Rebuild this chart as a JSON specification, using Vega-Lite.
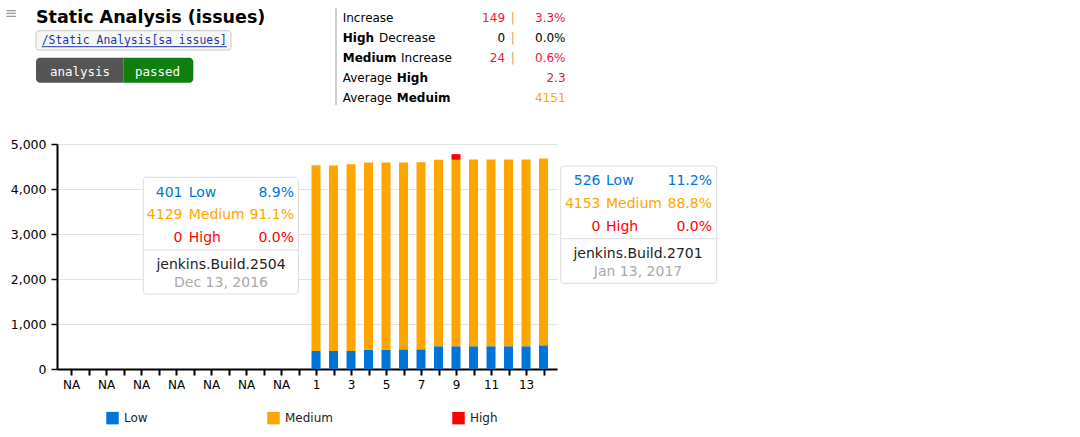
{
  "$schema": "https://vega.github.io/schema/vega-lite/v6.json",
  "autosize": {"type": "none"},
  "width": 500,
  "height": 225,
  "padding": {"left": 57, "top": 144, "right": 523, "bottom": 68},
  "background": "white",
  "config": {"font": "DejaVu Sans", "view": {"stroke": null}},
  "resolve": {"axis": {"x": "independent", "y": "independent"}},
  "layer": [
    {
      "data": {"values": [
        {"run": 14, "severity": "Low", "rank": 1, "count": 401},
        {"run": 14, "severity": "Medium", "rank": 2, "count": 4129},
        {"run": 14, "severity": "High", "rank": 3, "count": 0},
        {"run": 15, "severity": "Low", "rank": 1, "count": 400},
        {"run": 15, "severity": "Medium", "rank": 2, "count": 4120},
        {"run": 15, "severity": "High", "rank": 3, "count": 0},
        {"run": 16, "severity": "Low", "rank": 1, "count": 401},
        {"run": 16, "severity": "Medium", "rank": 2, "count": 4147},
        {"run": 16, "severity": "High", "rank": 3, "count": 0},
        {"run": 17, "severity": "Low", "rank": 1, "count": 431},
        {"run": 17, "severity": "Medium", "rank": 2, "count": 4158},
        {"run": 17, "severity": "High", "rank": 3, "count": 0},
        {"run": 18, "severity": "Low", "rank": 1, "count": 431},
        {"run": 18, "severity": "Medium", "rank": 2, "count": 4158},
        {"run": 18, "severity": "High", "rank": 3, "count": 0},
        {"run": 19, "severity": "Low", "rank": 1, "count": 438},
        {"run": 19, "severity": "Medium", "rank": 2, "count": 4151},
        {"run": 19, "severity": "High", "rank": 3, "count": 0},
        {"run": 20, "severity": "Low", "rank": 1, "count": 438},
        {"run": 20, "severity": "Medium", "rank": 2, "count": 4158},
        {"run": 20, "severity": "High", "rank": 3, "count": 0},
        {"run": 21, "severity": "Low", "rank": 1, "count": 505},
        {"run": 21, "severity": "Medium", "rank": 2, "count": 4144},
        {"run": 21, "severity": "High", "rank": 3, "count": 0},
        {"run": 22, "severity": "Low", "rank": 1, "count": 505},
        {"run": 22, "severity": "Medium", "rank": 2, "count": 4144},
        {"run": 22, "severity": "High", "rank": 3, "count": 125},
        {"run": 23, "severity": "Low", "rank": 1, "count": 505},
        {"run": 23, "severity": "Medium", "rank": 2, "count": 4151},
        {"run": 23, "severity": "High", "rank": 3, "count": 0},
        {"run": 24, "severity": "Low", "rank": 1, "count": 505},
        {"run": 24, "severity": "Medium", "rank": 2, "count": 4151},
        {"run": 24, "severity": "High", "rank": 3, "count": 0},
        {"run": 25, "severity": "Low", "rank": 1, "count": 505},
        {"run": 25, "severity": "Medium", "rank": 2, "count": 4151},
        {"run": 25, "severity": "High", "rank": 3, "count": 0},
        {"run": 26, "severity": "Low", "rank": 1, "count": 505},
        {"run": 26, "severity": "Medium", "rank": 2, "count": 4151},
        {"run": 26, "severity": "High", "rank": 3, "count": 0},
        {"run": 27, "severity": "Low", "rank": 1, "count": 526},
        {"run": 27, "severity": "Medium", "rank": 2, "count": 4153},
        {"run": 27, "severity": "High", "rank": 3, "count": 0}
      ]},
      "mark": {"type": "bar", "width": 9},
      "encoding": {
        "x": {"field": "run", "type": "quantitative",
          "scale": {"domain": [-0.8, 27.77], "nice": false, "zero": false, "padding": 0},
          "axis": {"title": null, "grid": false, "values": [0,1,2,3,4,5,6,7,8,9,10,11,12,13,14,15,16,17,18,19,20,21,22,23,24,25,26,27],
            "labelExpr": "datum.value < 14 ? (datum.value % 2 == 0 ? 'NA' : '') : (datum.value % 2 == 0 ? format(datum.value - 13, 'd') : '')",
            "domainColor": "#000", "domainWidth": 2, "tickColor": "#000", "tickWidth": 2, "tickSize": 6,
            "labelFontSize": 12, "labelColor": "#000", "labelPadding": 4, "labelAngle": 0, "labelFlush": false, "labelOverlap": false}},
        "y": {"field": "count", "type": "quantitative", "stack": "zero",
          "scale": {"domain": [0, 5000], "nice": false, "padding": 0},
          "axis": {"title": null, "values": [0,1000,2000,3000,4000,5000], "format": ",.0f", "grid": true, "gridColor": "#e2e2e2", "gridWidth": 1,
            "domainColor": "#000", "domainWidth": 2, "tickColor": "#000", "tickWidth": 1.5, "tickSize": 6,
            "labelFontSize": 12.5, "labelColor": "#000", "labelPadding": 5, "labelFlush": false}},
        "color": {"field": "severity", "type": "nominal",
          "scale": {"domain": ["Low", "Medium", "High"], "range": ["#0074d9", "#ffa500", "#ff0000"]},
          "legend": {"orient": "none", "legendX": 49, "legendY": 267.5, "direction": "horizontal", "title": null,
            "symbolType": "square", "symbolSize": 156, "symbolStrokeWidth": 0, "symbolOpacity": 1,
            "labelFontSize": 12, "labelOffset": 5, "columnPadding": 119, "labelColor": "#222", "padding": 0}},
        "order": {"field": "rank", "type": "quantitative"}
      }
    },
    {
      "data": {"values": [{"t": "≡", "x": -3.429, "y": 7904}]},
      "mark": {"type": "text", "align": "center", "baseline": "middle", "fontSize": 15, "color": "#999"},
      "encoding": {"x": {"field": "x", "type": "quantitative", "axis": null}, "y": {"field": "y", "type": "quantitative", "axis": null}, "text": {"field": "t"}}
    },
    {
      "data": {"values": [{"t": "Static Analysis (issues)", "x": -2.0, "y": 7682}]},
      "mark": {"type": "text", "align": "left", "baseline": "alphabetic", "fontSize": 17.5, "fontWeight": "bold", "color": "#000"},
      "encoding": {"x": {"field": "x", "type": "quantitative", "axis": null}, "y": {"field": "y", "type": "quantitative", "axis": null}, "text": {"field": "t"}}
    },
    {
      "data": {"values": [{"x": -2.0, "x2": 9.143, "y": 7518, "y2": 7089}]},
      "mark": {"type": "rect", "fill": "#f7f7f7", "stroke": "#c8c8c8", "strokeWidth": 1, "cornerRadius": 3},
      "encoding": {"x": {"field": "x", "type": "quantitative", "axis": null}, "x2": {"field": "x2"}, "y": {"field": "y", "type": "quantitative", "axis": null}, "y2": {"field": "y2"}}
    },
    {
      "data": {"values": [{"t": "/Static Analysis[sa_issues]", "x": -1.674, "y": 7216}]},
      "mark": {"type": "text", "align": "left", "baseline": "alphabetic", "font": "DejaVu Sans Mono", "fontSize": 11.4, "color": "#2233aa"},
      "encoding": {"x": {"field": "x", "type": "quantitative", "axis": null}, "y": {"field": "y", "type": "quantitative", "axis": null}, "text": {"field": "t"}}
    },
    {
      "data": {"values": [{"x": -1.674, "x2": 8.897, "y": 7162}]},
      "mark": {"type": "rule", "color": "#2233aa", "strokeWidth": 1},
      "encoding": {"x": {"field": "x", "type": "quantitative", "axis": null}, "x2": {"field": "x2"}, "y": {"field": "y", "type": "quantitative", "axis": null}}
    },
    {
      "data": {"values": [{"x": -2.0, "x2": 2.989, "y": 6918, "y2": 6362}]},
      "mark": {"type": "rect", "fill": "#555555", "cornerRadiusTopLeft": 4, "cornerRadiusBottomLeft": 4},
      "encoding": {"x": {"field": "x", "type": "quantitative", "axis": null}, "x2": {"field": "x2"}, "y": {"field": "y", "type": "quantitative", "axis": null}, "y2": {"field": "y2"}}
    },
    {
      "data": {"values": [{"x": 2.989, "x2": 6.989, "y": 6918, "y2": 6362}]},
      "mark": {"type": "rect", "fill": "#0f800f", "cornerRadiusTopRight": 4, "cornerRadiusBottomRight": 4},
      "encoding": {"x": {"field": "x", "type": "quantitative", "axis": null}, "x2": {"field": "x2"}, "y": {"field": "y", "type": "quantitative", "axis": null}, "y2": {"field": "y2"}}
    },
    {
      "data": {"values": [{"t": "analysis", "x": 0.514, "y": 6511}, {"t": "passed", "x": 4.943, "y": 6511}]},
      "mark": {"type": "text", "align": "center", "baseline": "alphabetic", "font": "DejaVu Sans Mono", "fontSize": 12.5, "color": "#ffffff"},
      "encoding": {"x": {"field": "x", "type": "quantitative", "axis": null}, "y": {"field": "y", "type": "quantitative", "axis": null}, "text": {"field": "t"}}
    },
    {
      "data": {"values": [{"x": 15.143, "y": 8022, "y2": 5867}]},
      "mark": {"type": "rule", "color": "#d0d0d0", "strokeWidth": 2},
      "encoding": {"x": {"field": "x", "type": "quantitative", "axis": null}, "y": {"field": "y", "type": "quantitative", "axis": null}, "y2": {"field": "y2"}}
    },
    {
      "data": {"values": [
        {"t": "Increase", "x": 15.526, "y": 7716},
        {"t": "Decrease", "x": 17.6, "y": 7271},
        {"t": "Increase", "x": 18.857, "y": 6827},
        {"t": "Average", "x": 15.526, "y": 6382},
        {"t": "Average", "x": 15.526, "y": 5938}
      ]},
      "mark": {"type": "text", "align": "left", "baseline": "alphabetic", "fontSize": 12, "color": "#000"},
      "encoding": {"x": {"field": "x", "type": "quantitative", "axis": null}, "y": {"field": "y", "type": "quantitative", "axis": null}, "text": {"field": "t"}}
    },
    {
      "data": {"values": [
        {"t": "High", "x": 15.526, "y": 7271},
        {"t": "Medium", "x": 15.526, "y": 6827},
        {"t": "High", "x": 18.611, "y": 6382},
        {"t": "Meduim", "x": 18.611, "y": 5938}
      ]},
      "mark": {"type": "text", "align": "left", "baseline": "alphabetic", "fontSize": 12, "fontWeight": "bold", "color": "#000"},
      "encoding": {"x": {"field": "x", "type": "quantitative", "axis": null}, "y": {"field": "y", "type": "quantitative", "axis": null}, "text": {"field": "t"}}
    },
    {
      "data": {"values": [
        {"t": "149", "x": 24.8, "y": 7716},
        {"t": "3.3%", "x": 28.257, "y": 7716},
        {"t": "24", "x": 24.8, "y": 6827},
        {"t": "0.6%", "x": 28.257, "y": 6827},
        {"t": "2.3", "x": 28.257, "y": 6382}
      ]},
      "mark": {"type": "text", "align": "right", "baseline": "alphabetic", "fontSize": 12, "color": "#f0143c"},
      "encoding": {"x": {"field": "x", "type": "quantitative", "axis": null}, "y": {"field": "y", "type": "quantitative", "axis": null}, "text": {"field": "t"}}
    },
    {
      "data": {"values": [
        {"t": "0", "x": 24.8, "y": 7271},
        {"t": "0.0%", "x": 28.257, "y": 7271}
      ]},
      "mark": {"type": "text", "align": "right", "baseline": "alphabetic", "fontSize": 12, "color": "#000"},
      "encoding": {"x": {"field": "x", "type": "quantitative", "axis": null}, "y": {"field": "y", "type": "quantitative", "axis": null}, "text": {"field": "t"}}
    },
    {
      "data": {"values": [{"t": "4151", "x": 28.257, "y": 5938}]},
      "mark": {"type": "text", "align": "right", "baseline": "alphabetic", "fontSize": 12, "color": "#ffa500"},
      "encoding": {"x": {"field": "x", "type": "quantitative", "axis": null}, "y": {"field": "y", "type": "quantitative", "axis": null}, "text": {"field": "t"}}
    },
    {
      "data": {"values": [
        {"t": "|", "x": 25.24, "y": 7716},
        {"t": "|", "x": 25.24, "y": 7271},
        {"t": "|", "x": 25.24, "y": 6827}
      ]},
      "mark": {"type": "text", "align": "center", "baseline": "alphabetic", "fontSize": 12, "color": "#d9a25f"},
      "encoding": {"x": {"field": "x", "type": "quantitative", "axis": null}, "y": {"field": "y", "type": "quantitative", "axis": null}, "text": {"field": "t"}}
    },
    {
      "data": {"values": [
        {"x": 4.131, "x2": 12.989, "y": 4260, "y2": 1667},
        {"x": 27.983, "x2": 36.897, "y": 4511, "y2": 1904}
      ]},
      "mark": {"type": "rect", "fill": "#ffffff", "stroke": "#dddddd", "strokeWidth": 1, "cornerRadius": 3},
      "encoding": {"x": {"field": "x", "type": "quantitative", "axis": null}, "x2": {"field": "x2"}, "y": {"field": "y", "type": "quantitative", "axis": null}, "y2": {"field": "y2"}}
    },
    {
      "data": {"values": [
        {"x": 4.131, "x2": 12.989, "y": 2644},
        {"x": 27.983, "x2": 36.897, "y": 2896}
      ]},
      "mark": {"type": "rule", "color": "#dddddd", "strokeWidth": 1},
      "encoding": {"x": {"field": "x", "type": "quantitative", "axis": null}, "x2": {"field": "x2"}, "y": {"field": "y", "type": "quantitative", "axis": null}}
    },
    {
      "data": {"values": [
        {"severity": "Low", "t": "401", "x": 6.371, "y": 3829},
        {"severity": "Medium", "t": "4129", "x": 6.371, "y": 3327},
        {"severity": "High", "t": "0", "x": 6.371, "y": 2816},
        {"severity": "Low", "t": "526", "x": 30.257, "y": 4080},
        {"severity": "Medium", "t": "4153", "x": 30.257, "y": 3578},
        {"severity": "High", "t": "0", "x": 30.257, "y": 3067}
      ]},
      "mark": {"type": "text", "align": "right", "baseline": "alphabetic", "fontSize": 14},
      "encoding": {"x": {"field": "x", "type": "quantitative", "axis": null}, "y": {"field": "y", "type": "quantitative", "axis": null}, "text": {"field": "t"},
        "color": {"field": "severity", "type": "nominal"}}
    },
    {
      "data": {"values": [
        {"severity": "Low", "t": "Low", "x": 6.726, "y": 3829},
        {"severity": "Medium", "t": "Medium", "x": 6.726, "y": 3327},
        {"severity": "High", "t": "High", "x": 6.726, "y": 2816},
        {"severity": "Low", "t": "Low", "x": 30.571, "y": 4080},
        {"severity": "Medium", "t": "Medium", "x": 30.571, "y": 3578},
        {"severity": "High", "t": "High", "x": 30.571, "y": 3067}
      ]},
      "mark": {"type": "text", "align": "left", "baseline": "alphabetic", "fontSize": 14},
      "encoding": {"x": {"field": "x", "type": "quantitative", "axis": null}, "y": {"field": "y", "type": "quantitative", "axis": null}, "text": {"field": "t"},
        "color": {"field": "severity", "type": "nominal"}}
    },
    {
      "data": {"values": [
        {"severity": "Low", "t": "8.9%", "x": 12.743, "y": 3829},
        {"severity": "Medium", "t": "91.1%", "x": 12.743, "y": 3327},
        {"severity": "High", "t": "0.0%", "x": 12.743, "y": 2816},
        {"severity": "Low", "t": "11.2%", "x": 36.629, "y": 4080},
        {"severity": "Medium", "t": "88.8%", "x": 36.629, "y": 3578},
        {"severity": "High", "t": "0.0%", "x": 36.629, "y": 3067}
      ]},
      "mark": {"type": "text", "align": "right", "baseline": "alphabetic", "fontSize": 14},
      "encoding": {"x": {"field": "x", "type": "quantitative", "axis": null}, "y": {"field": "y", "type": "quantitative", "axis": null}, "text": {"field": "t"},
        "color": {"field": "severity", "type": "nominal"}}
    },
    {
      "data": {"values": [
        {"t": "jenkins.Build.2504", "x": 8.571, "y": 2222},
        {"t": "jenkins.Build.2701", "x": 32.4, "y": 2473}
      ]},
      "mark": {"type": "text", "align": "center", "baseline": "alphabetic", "fontSize": 14, "color": "#222"},
      "encoding": {"x": {"field": "x", "type": "quantitative", "axis": null}, "y": {"field": "y", "type": "quantitative", "axis": null}, "text": {"field": "t"}}
    },
    {
      "data": {"values": [
        {"t": "Dec 13, 2016", "x": 8.571, "y": 1822},
        {"t": "Jan 13, 2017", "x": 32.4, "y": 2073}
      ]},
      "mark": {"type": "text", "align": "center", "baseline": "alphabetic", "fontSize": 14, "color": "#aaaaaa"},
      "encoding": {"x": {"field": "x", "type": "quantitative", "axis": null}, "y": {"field": "y", "type": "quantitative", "axis": null}, "text": {"field": "t"}}
    }
  ]
}
